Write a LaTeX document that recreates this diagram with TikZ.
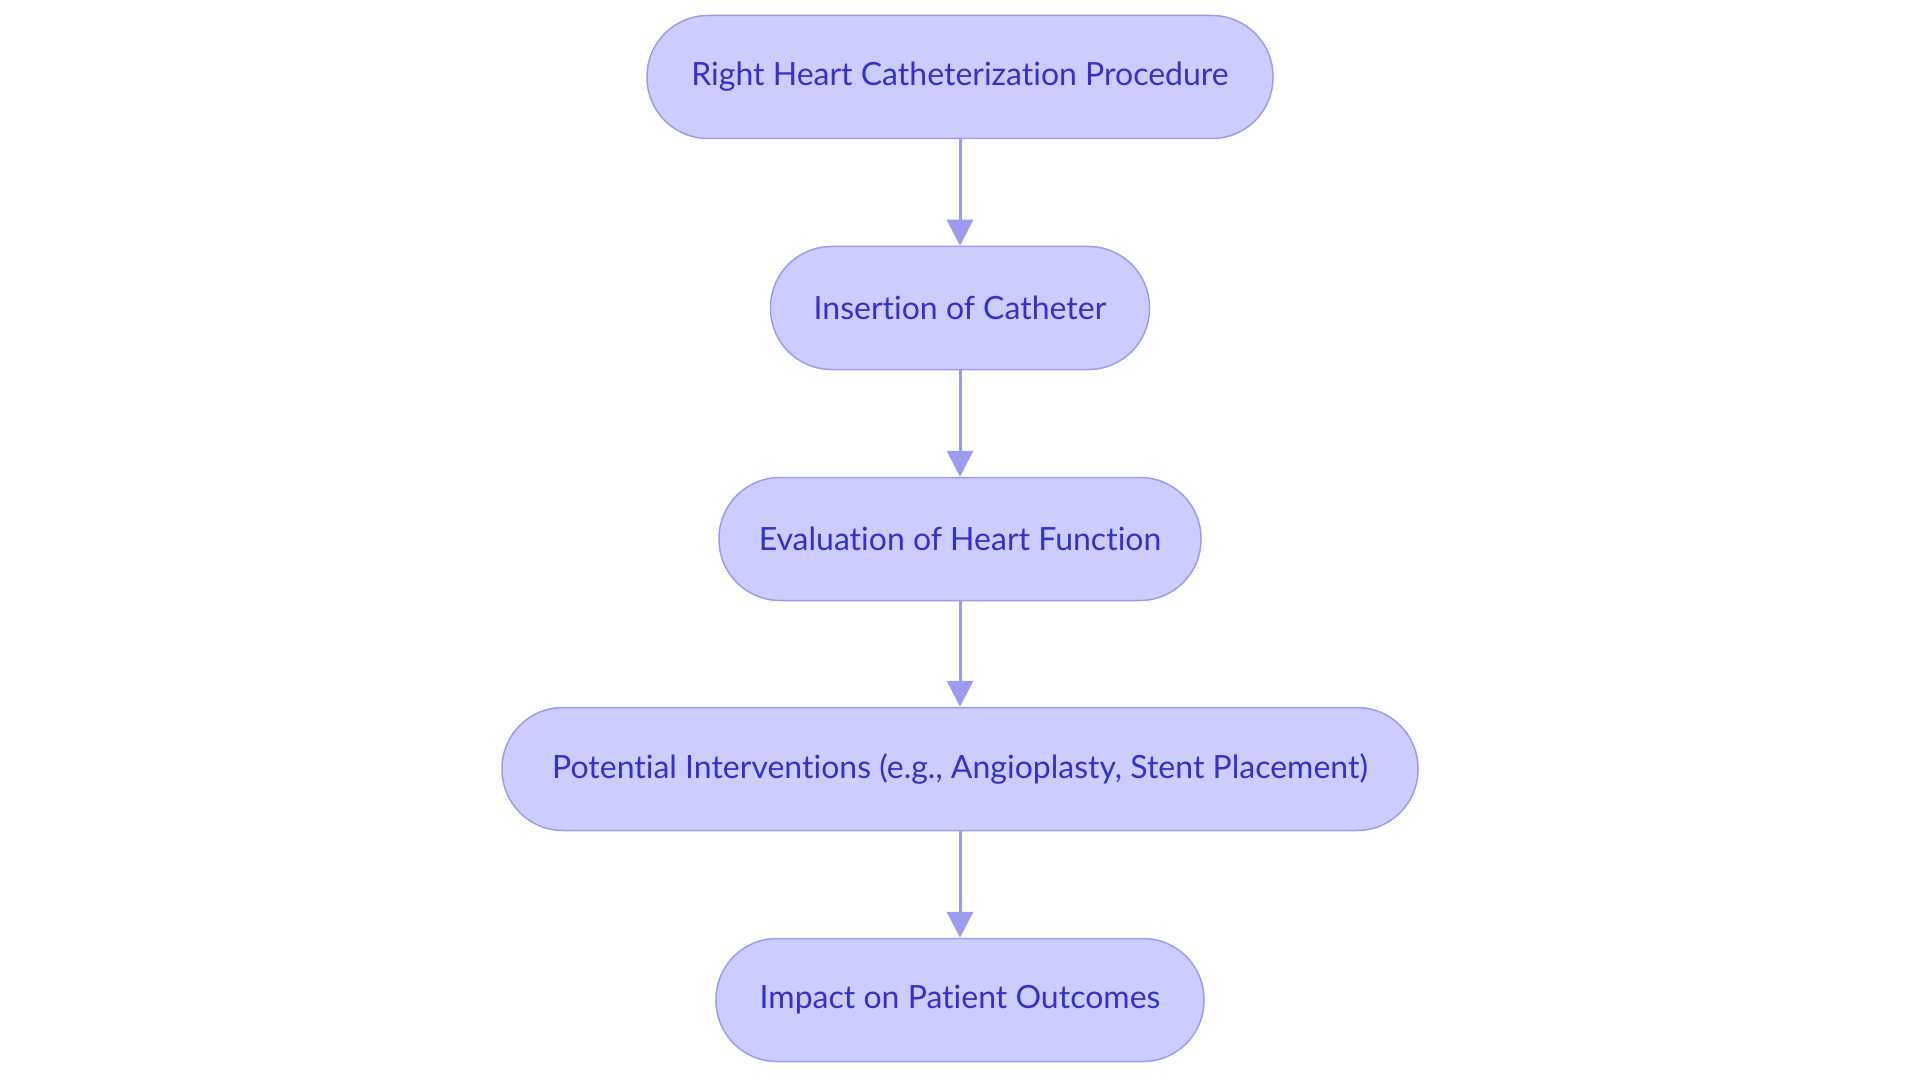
\documentclass[tikz,border=0pt]{standalone}
\usepackage{fontspec}
\setmainfont{Lato}[Ligatures={NoCommon}]
\usetikzlibrary{arrows.meta}
\definecolor{fillc}{HTML}{CCCCFF}
\definecolor{linec}{HTML}{9C9CEE}
\definecolor{textc}{HTML}{3333CC}
\begin{document}
\begin{tikzpicture}[x=1pt,y=-1pt,
  box/.style={draw=linec,line width=1.5pt,fill=fillc,rounded corners=61pt,minimum height=123pt,text=textc,font=\fontsize{32}{38}\selectfont},
  arr/.style={draw=linec,line width=3pt,-{Triangle[length=26pt,width=26pt]}}]
\useasboundingbox (0,0) rectangle (1920,1083);
\node[box,minimum width=626pt] (a) at (960,77) {Right Heart Catheterization Procedure};
\node[box,minimum width=379pt] (b) at (960,308) {Insertion of Catheter};
\node[box,minimum width=482pt] (c) at (960,539) {Evaluation of Heart Function};
\node[box,minimum width=916pt] (d) at (960,769) {Potential Interventions (e.g., Angioplasty, Stent Placement)};
\node[box,minimum width=488pt] (e) at (960,1000) {Impact on Patient Outcomes};
\draw[arr] (a) -- (b);
\draw[arr] (b) -- (c);
\draw[arr] (c) -- (d);
\draw[arr] (d) -- (e);
\end{tikzpicture}
\end{document}
